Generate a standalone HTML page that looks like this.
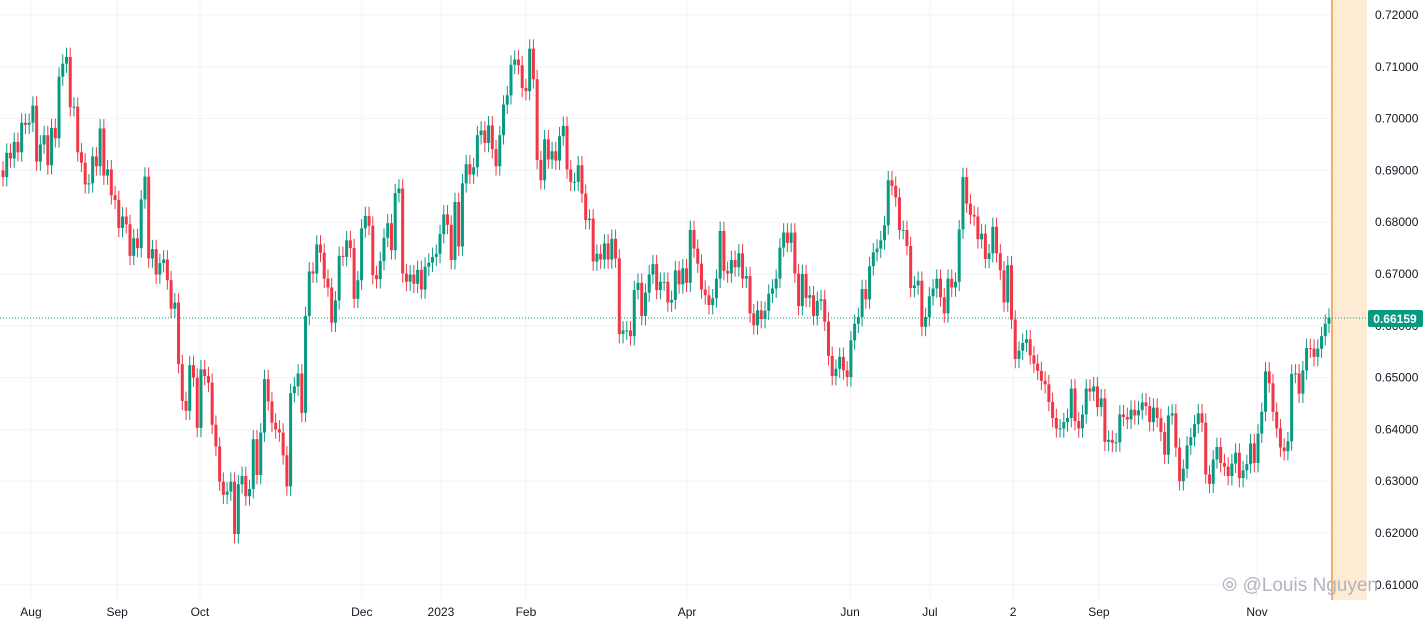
<!DOCTYPE html>
<html><head><meta charset="utf-8">
<style>
html,body{margin:0;padding:0;background:#fff;}
body{width:1426px;height:623px;overflow:hidden;font-family:"Liberation Sans",sans-serif;}
svg text{font-family:"Liberation Sans",sans-serif;}
</style></head>
<body>
<svg id="chart" width="1426" height="623" xmlns="http://www.w3.org/2000/svg">
  <g id="grid"></g>
  <rect x="1332" y="0" width="35" height="600" fill="#fdebd3"/>
  <line x1="1332" y1="0" x2="1332" y2="600" stroke="#f7b062" stroke-width="2"/>
  <g id="candles"></g>
  <line id="lastline" x1="0" y1="318" x2="1367" y2="318" stroke="#089981" stroke-width="1" stroke-dasharray="1,2"/>
  <g id="yaxis"></g>
  <g id="xaxis"></g>
  <text x="1222" y="591" font-size="19" fill="#b2b5be">⦾ @Louis Nguyen</text>
  <g>
    <rect x="1368" y="310" width="55" height="17" rx="2" fill="#089981"/>
    <text x="1395" y="323" font-size="12" font-weight="bold" fill="#fff" text-anchor="middle">0.66159</text>
  </g>
</svg>
<script>
const closes=[
0.6887,0.6934,0.6923,0.6955,0.6935,0.6992,0.6988,0.6992,0.7025,0.6917,0.6950,0.6968,0.6910,0.6982,0.6962,0.7081,0.7106,0.7119,0.7022,0.7023,0.6935,0.6915,0.6873,0.6875,0.6927,0.6908,0.6981,0.6890,0.6902,0.6852,0.6843,0.6789,0.6811,0.6796,0.6735,0.6769,0.6750,0.6844,0.6888,0.6730,0.6748,0.6699,0.6721,0.6728,0.6688,0.6633,0.6645,0.6526,0.6455,0.6436,0.6524,0.6500,0.6403,0.6516,0.6503,0.6490,0.6409,0.6367,0.6299,0.6274,0.6280,0.6299,0.6198,0.6294,0.6310,0.6271,0.6285,0.6381,0.6312,0.6394,0.6497,0.6454,0.6413,0.6400,0.6394,0.6350,0.6290,0.6470,0.6483,0.6508,0.6432,0.6619,0.6705,0.6701,0.6757,0.6741,0.6691,0.6674,0.6606,0.6649,0.6735,
0.6733,0.6765,0.6750,0.6652,0.6688,0.6788,0.6812,0.6793,0.6698,0.6690,0.6725,0.6770,0.6798,0.6746,0.6856,0.6865,0.6701,0.6685,0.6699,0.6681,0.6708,0.6670,0.6714,0.6722,0.6733,0.6739,0.6777,0.6815,0.6795,0.6727,0.6839,0.6753,0.6875,0.6912,0.6892,0.6906,0.6968,0.6977,0.6953,0.6987,0.6941,0.6908,0.6968,0.7027,0.7045,0.7104,0.7114,0.7103,0.7059,0.7053,0.7135,0.7076,0.6920,0.6881,0.6960,0.6921,0.6937,0.6919,0.6966,0.6986,0.6902,0.6878,0.6878,0.6910,0.6855,0.6804,0.6807,0.6724,0.6739,0.6728,0.6759,0.6728,0.6768,0.6730,0.6584,0.6591,0.6591,0.6580,0.6669,0.6683,0.6619,0.6664,0.6699,0.6719,0.6669,0.6685,0.6685,0.6645,0.6650,
0.6707,0.6680,0.6711,0.6683,0.6785,0.6749,0.6720,0.6670,0.6659,0.6640,0.6653,0.6691,0.6783,0.6706,0.6701,0.6727,0.6713,0.6740,0.6691,0.6696,0.6624,0.6601,0.6630,0.6613,0.6629,0.6662,0.6672,0.6691,0.6751,0.6780,0.6760,0.6780,0.6701,0.6638,0.6700,0.6654,0.6659,0.6619,0.6648,0.6651,0.6608,0.6542,0.6503,0.6517,0.6540,0.6514,0.6501,0.6572,0.6604,0.6617,0.6671,0.6651,0.6715,0.6742,0.6749,0.6765,0.6794,0.6881,0.6870,0.6848,0.6785,0.6785,0.6754,0.6673,0.6678,0.6687,0.6598,0.6617,0.6657,0.6672,0.6691,0.6655,0.6624,0.6691,0.6674,0.6685,0.6786,0.6887,0.6836,0.6814,0.6811,0.6767,0.6778,0.6729,0.6740,0.6791,0.6740,0.6707,
0.6645,0.6717,0.6612,0.6536,0.6552,0.6567,0.6574,0.6543,0.6527,0.6513,0.6494,0.6487,0.6453,0.6422,0.6402,0.6402,0.6414,0.6422,0.6479,0.6416,0.6402,0.6429,0.6479,0.6473,0.6483,0.6443,0.6460,0.6376,0.6380,0.6374,0.6375,0.6429,0.6424,0.6419,0.6438,0.6427,0.6437,0.6452,0.6445,0.6414,0.6442,0.6422,0.6395,0.6351,0.6427,0.6431,0.6365,0.6300,0.6324,0.6369,0.6385,0.6410,0.6431,0.6413,0.6313,0.6295,0.6342,0.6366,0.6335,0.6328,0.6310,0.6334,0.6355,0.6306,0.6321,0.6333,0.6373,0.6335,0.6392,0.6434,0.6512,0.6489,0.6434,0.6402,0.6365,0.6358,0.6377,0.6507,0.6508,0.6469,0.6514,0.6557,0.6556,0.6540,0.6556,0.6580,0.6604,0.6616];
const firstOpen=0.6900;
const priceTicks=[0.72,0.71,0.70,0.69,0.68,0.67,0.66,0.65,0.64,0.63,0.62,0.61];
const timeLabels=["Aug","Sep","Oct","Dec","2023","Feb","Apr","Jun","Jul","2","Sep","Nov"];
const timeLabelIdx=[7.5,30.6,52.8,96.2,117.4,140.2,183.4,227.1,248.5,270.8,293.8,336.2];
const wick=0.0018;

const NS="http://www.w3.org/2000/svg";
function y(p){return 15+(0.72-p)*5180;}
const n=closes.length;
const step=(1329-3)/(n-1);
function x(i){return 3+i*step;}
function mk(tag,attrs,parent){const e=document.createElementNS(NS,tag);for(const k in attrs)e.setAttribute(k,attrs[k]);parent.appendChild(e);return e;}

const grid=document.getElementById('grid');
const ya=document.getElementById('yaxis');
priceTicks.forEach(p=>{
  const l=mk('line',{x1:0,x2:1367,y1:y(p),y2:y(p),stroke:'#f0f3fa','stroke-width':1},grid);
  
  
  const t=mk('text',{x:1375,y:y(p)+4,'font-size':12,fill:'#131722'},ya);
  
  
  t.textContent=p.toFixed(5);
});
const xa=document.getElementById('xaxis');
timeLabels.forEach((lab,k)=>{
  const xx=3+timeLabelIdx[k]*3.73;
  const l=mk('line',{x1:xx,x2:xx,y1:0,y2:600,stroke:'#f0f3fa','stroke-width':1},grid);
  
  
  const t=mk('text',{x:xx,y:616,'font-size':12,fill:'#131722','text-anchor':'middle'},xa);
  
  
  t.textContent=lab;
});
const cg=document.getElementById('candles');
closes.forEach((c,i)=>{
  const o=i===0?firstOpen:closes[i-1];
  const up=c>=o;
  const col=up?'#089981':'#f23645';
  const hi=Math.max(o,c)+wick, lo=Math.min(o,c)-wick;
  const cx=x(i);
  const g=mk('g',{},cg);
  
  
  mk('line',{x1:cx,x2:cx,y1:y(hi),y2:y(lo),stroke:col,'stroke-width':1},g);
  const top=y(Math.max(o,c)), h=Math.max(1,y(Math.min(o,c))-top);
  mk('rect',{x:cx-1.5,y:top,width:3,height:h,fill:col},g);
});
</script>
</body></html>
